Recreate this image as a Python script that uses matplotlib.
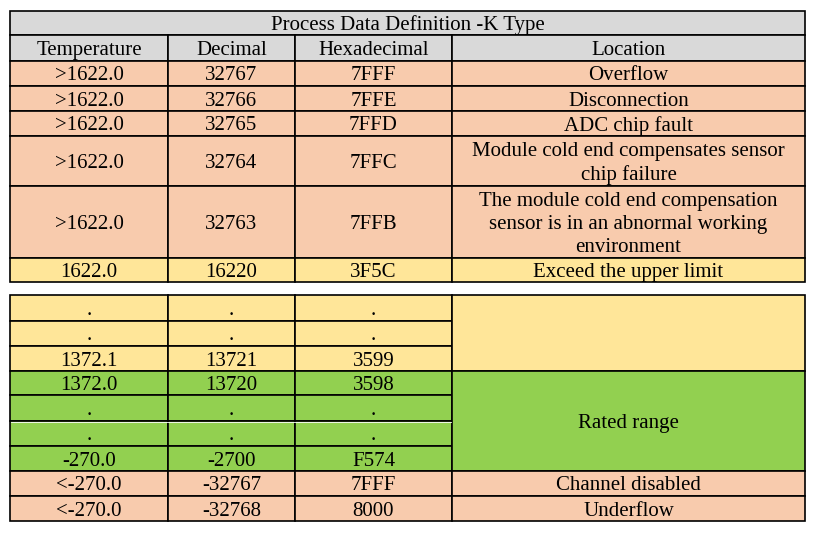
import matplotlib.pyplot as plt
from matplotlib.patches import Rectangle

plt.rcParams['font.family'] = ['Liberation Serif', 'DejaVu Serif']

# -----------------------------
# DATA
# -----------------------------
title = "Process Data Definition -K Type"
headers = ["Temperature", "Decimal", "Hexadecimal", "Location"]

temp_1 = [">1622.0", ">1622.0", ">1622.0", ">1622.0", ">1622.0", "1622.0"]
dec_1 = ["32767", "32766", "32765", "32764", "32763", "16220"]
hex_1 = ["7FFF", "7FFE", "7FFD", "7FFC", "7FFB", "3F5C"]
loc_1 = ["Overflow", "Disconnection", "ADC chip fault",
         "Module cold end compensates sensor\nchip failure",
         "The module cold end compensation\nsensor is in an abnormal working\nenvironment",
         "Exceed the upper limit"]

temp_2 = [".", ".", "1372.1", "1372.0", ".", ".", "-270.0", "<-270.0", "<-270.0"]
dec_2 = [".", ".", "13721", "13720", ".", ".", "-2700", "-32767", "-32768"]
hex_2 = [".", ".", "3599", "3598", ".", ".", "F574", "7FFF", "8000"]
# merged location cells: (first row, last row + 1, text)
loc_2 = [(0, 3, ""), (3, 7, "Rated range"), (7, 8, "Channel disabled"), (8, 9, "Underflow")]

# -----------------------------
# LAYOUT / STYLE
# -----------------------------
SALMON = "#F8CBAD"
YELLOW = "#FFE699"
GREEN = "#92D050"
GRAY = "#D9D9D9"

colour_1 = [SALMON] * 5 + [YELLOW]
colour_2 = [YELLOW] * 3 + [GREEN] * 4 + [SALMON] * 2

xs = [10, 168, 295, 452, 805]
y_title = [11, 35]
y_head = [35, 61]
y_rows_1 = [61, 86, 111, 136, 186, 258, 282]
y_rows_2 = [295, 321, 346, 371, 395, 421, 446, 471, 496, 521]

FS = 15
LW = 1.2

fig = plt.figure(figsize=(8.2, 5.35), dpi=100)
ax = fig.add_axes([0, 0, 1, 1])
ax.set_xlim(0, 820)
ax.set_ylim(535, 0)
ax.axis("off")


def cell(x0, x1, y0, y1, text, colour):
    ax.add_patch(Rectangle((x0, y0), x1 - x0, y1 - y0, facecolor=colour,
                           edgecolor="black", linewidth=LW))
    if text:
        ax.text((x0 + x1) / 2, (y0 + y1) / 2 + 2.5, text, ha="center", va="center",
                fontsize=FS, linespacing=1.32)


# title and header
cell(xs[0], xs[-1], y_title[0], y_title[1], title, GRAY)
for i, h in enumerate(headers):
    cell(xs[i], xs[i + 1], y_head[0], y_head[1], h, GRAY)

# first table
for r in range(len(temp_1)):
    y0, y1 = y_rows_1[r], y_rows_1[r + 1]
    vals = [temp_1[r], dec_1[r], hex_1[r], loc_1[r]]
    for c, v in enumerate(vals):
        cell(xs[c], xs[c + 1], y0, y1, v, colour_1[r])

# second table
for r in range(len(temp_2)):
    y0, y1 = y_rows_2[r], y_rows_2[r + 1]
    vals = [temp_2[r], dec_2[r], hex_2[r]]
    for c, v in enumerate(vals):
        cell(xs[c], xs[c + 1], y0, y1, v, colour_2[r])

for r0, r1, txt in loc_2:
    cell(xs[3], xs[4], y_rows_2[r0], y_rows_2[r1], txt, colour_2[r0])

# thin white line under the row border in the green block
ax.plot([xs[0] + 1, xs[3] - 1], [y_rows_2[5] + 1.3, y_rows_2[5] + 1.3],
        color="white", linewidth=0.6)

fig.savefig("out.png", dpi=100)
